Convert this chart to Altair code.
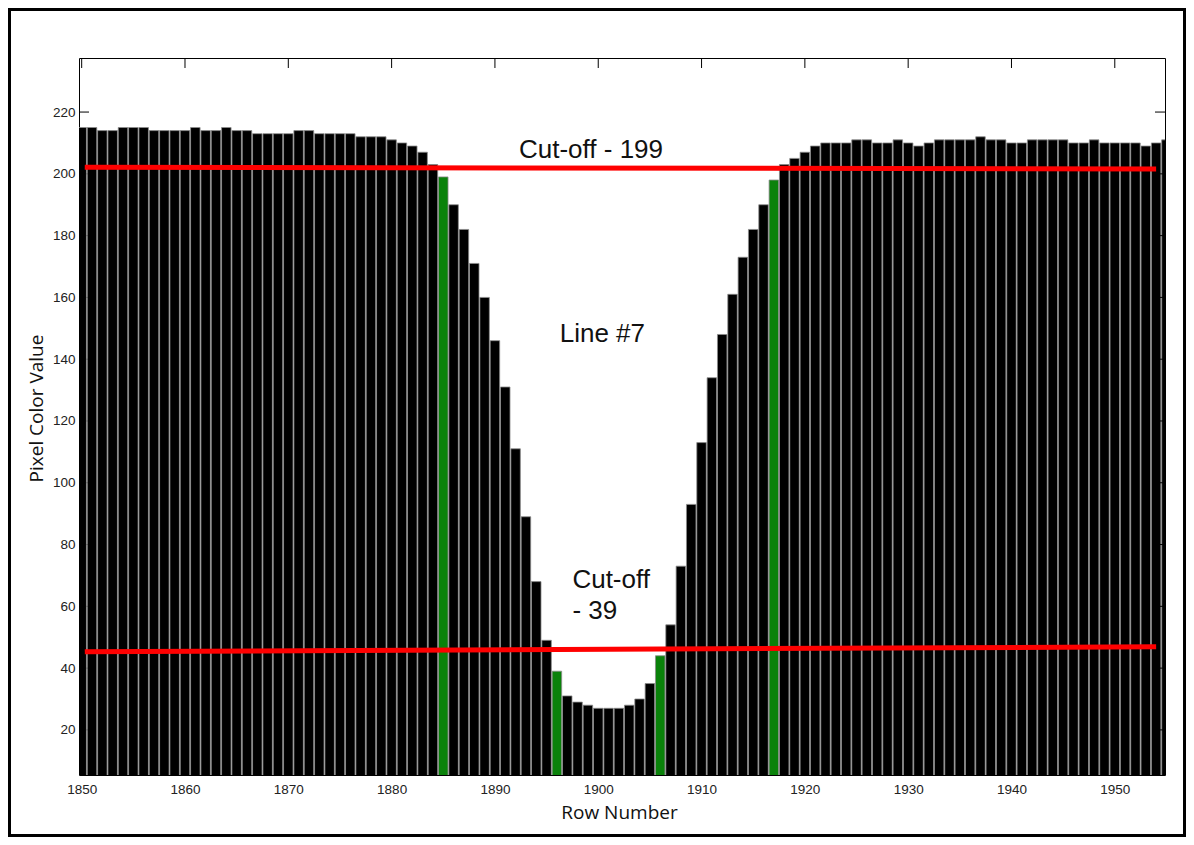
import altair as alt
import pandas as pd

# ---- data ----
rows = list(range(1850, 1956))
values = [
    215, 215, 214, 214, 215, 215, 215, 214, 214, 214,   # 1850-1859
    214, 215, 214, 214, 215, 214, 214, 213, 213, 213,   # 1860-1869
    213, 214, 214, 213, 213, 213, 213, 212, 212, 212,   # 1870-1879
    211, 210, 209, 207, 203, 199, 190, 182, 171, 160,   # 1880-1889
    146, 131, 111, 89, 68, 49, 39, 31, 29, 28,          # 1890-1899
    27, 27, 27, 28, 30, 35, 44, 54, 73, 93,             # 1900-1909
    113, 134, 148, 161, 173, 182, 190, 198, 203, 205,   # 1910-1919
    207, 209, 210, 210, 210, 211, 211, 210, 210, 211,   # 1920-1929
    210, 209, 210, 211, 211, 211, 211, 212, 211, 211,   # 1930-1939
    210, 210, 211, 211, 211, 211, 210, 210, 211, 210,   # 1940-1949
    210, 210, 210, 209, 210, 211,                       # 1950-1955
]
green_rows = [1885, 1896, 1906, 1917]

cutoff_names = ["upper", "upper", "lower", "lower"]
cutoff_x = [1850.3, 1954.0, 1850.3, 1954.0]
cutoff_y = [202.1, 201.6, 45.3, 46.9]

x_ticks = [1850, 1860, 1870, 1880, 1890, 1900, 1910, 1920, 1930, 1940, 1950]
y_ticks = [20, 40, 60, 80, 100, 120, 140, 160, 180, 200, 220]

center_labels = ["Cut-off - 199", "Line #7"]
center_x = [1899.3, 1900.4]
center_y = [205.0, 145.7]

left_labels = ["Cut-off", "- 39"]
left_x = [1897.5, 1897.5]
left_y = [65.9, 55.8]

# ---- tables ----
df = pd.DataFrame({"row": rows, "value": values})
df["color"] = ["#0a820a" if r in green_rows else "#000000" for r in rows]
df["x0"] = df["row"] - 0.46
df["x1"] = df["row"] + 0.46
df["base"] = 0

lines_df = pd.DataFrame({"name": cutoff_names, "x": cutoff_x, "y": cutoff_y})
xt_df = pd.DataFrame({"t": x_ticks})
yt_df = pd.DataFrame({"t": y_ticks})
ctext_df = pd.DataFrame({"label": center_labels, "x": center_x, "y": center_y})
ltext_df = pd.DataFrame({"label": left_labels, "x": left_x, "y": left_y})

W, H = 1086, 717
xs = alt.Scale(domain=[1849.74, 1954.86], nice=False, zero=False)
ys = alt.Scale(domain=[5.4, 237.5], nice=False, zero=False)

x_axis = alt.Axis(
    title="Row Number",
    values=x_ticks, format="d", ticks=False, domain=False, grid=False,
    labelPadding=7, labelFont="Liberation Sans", labelFontSize=13.5,
    labelColor="#222222", titleFont="Open Sans", titleFontSize=19,
    titleFontWeight="normal", titleColor="#111111",
    titleX=540, titleY=37, titleAlign="center", titleBaseline="middle",
)
y_axis = alt.Axis(
    title="Pixel Color Value",
    values=y_ticks, format="d", ticks=False, domain=False, grid=False,
    labelPadding=4, labelFont="Liberation Sans", labelFontSize=13.5,
    labelColor="#222222", titleFont="Open Sans", titleFontSize=19,
    titleFontWeight="normal", titleColor="#111111",
    titleAngle=270, titleX=-43, titleY=350, titleAlign="center",
    titleBaseline="middle",
)


def X(field):
    return alt.X(field, scale=xs, axis=x_axis)


def Y(field):
    return alt.Y(field, scale=ys, axis=y_axis)


left_ticks = alt.Chart(yt_df).mark_rule(color="black", strokeWidth=1).encode(
    y=Y("t:Q"), x=alt.value(0), x2=alt.value(10)
)

bars = alt.Chart(df).mark_bar(clip=True, stroke="#8c8c8c", strokeWidth=0.8).encode(
    x=X("x0:Q"),
    x2="x1:Q",
    y=Y("value:Q"),
    y2="base:Q",
    color=alt.Color("color:N", scale=None),
)

top_ticks = alt.Chart(xt_df).mark_rule(color="black", strokeWidth=1).encode(
    x=X("t:Q"), y=alt.value(0), y2=alt.value(10)
)
right_ticks = alt.Chart(yt_df).mark_rule(color="black", strokeWidth=1).encode(
    y=Y("t:Q"), x=alt.value(W - 10), x2=alt.value(W)
)

red_lines = alt.Chart(lines_df).mark_line(color="#ff0000", strokeWidth=5, strokeCap="butt").encode(
    x=X("x:Q"),
    y=Y("y:Q"),
    detail="name:N",
)

ctext = alt.Chart(ctext_df).mark_text(
    font="Liberation Sans", fontSize=26, align="center", baseline="alphabetic", color="#111111"
).encode(x=X("x:Q"), y=Y("y:Q"), text="label:N")
ltext = alt.Chart(ltext_df).mark_text(
    font="Liberation Sans", fontSize=26, align="left", baseline="alphabetic", color="#111111"
).encode(x=X("x:Q"), y=Y("y:Q"), text="label:N")

frame = alt.Chart(pd.DataFrame({"a": [0]})).mark_rect(
    filled=False, stroke="black", strokeWidth=3, clip=False
).encode(
    x=alt.value(-69.5), x2=alt.value(W + 19.5), y=alt.value(-48.5), y2=alt.value(H + 60.5)
)

chart = alt.layer(
    left_ticks, bars, top_ticks, right_ticks, red_lines, ctext, ltext, frame
).properties(
    width=W, height=H,
    autosize=alt.AutoSizeParams(type="none"),
    padding={"left": 71, "top": 50, "right": 21, "bottom": 62},
    background="white",
).configure_view(stroke="black", strokeWidth=1)

chart.save("out.html", embed_options={"renderer": "svg", "actions": False})
